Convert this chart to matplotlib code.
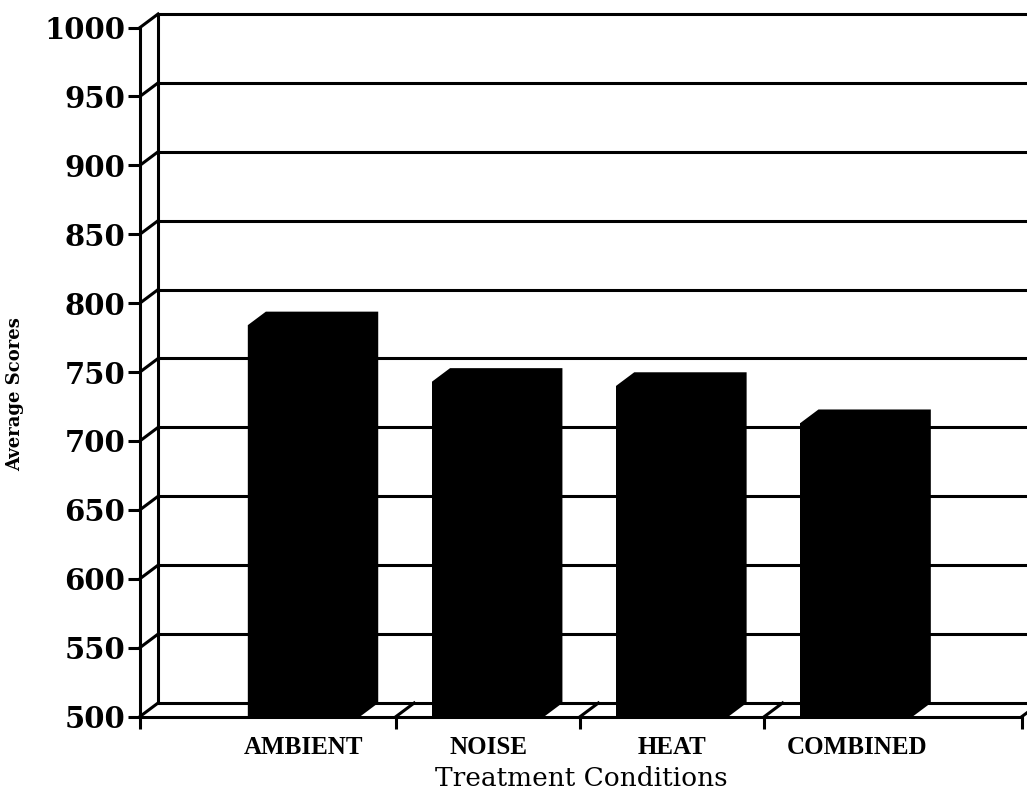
import numpy as np
import matplotlib
matplotlib.use("Agg")
import matplotlib.pyplot as plt

# Mean scores per treatment condition
conditions = ['AMBIENT', 'NOISE', 'HEAT', 'COMBINED']
scores = [784, 743, 740, 713]
y_ticks = list(range(500, 1001, 50))

# front-plane layout and the pseudo 3-D depth offset (data units)
x0, x1 = 0.1097, 4.898
bar_w = 0.61
dx, dy = 0.098, 9.8
lw = 2.2

fig = plt.figure(figsize=(10.27, 8.0), dpi=100)
ax = fig.add_axes([140 / 1027, 83.5 / 800, 882 / 1027, 689 / 800])
ax.set_xlim(x0, x1)
ax.set_ylim(500, 1000)

for side in ['top', 'right']:
    ax.spines[side].set_visible(False)
for side in ['left', 'bottom']:
    ax.spines[side].set_linewidth(lw)
    ax.spines[side].set_zorder(5)

# back wall gridlines and the left wall connecting them to the front axis
for v in y_ticks:
    ax.plot([x0 + dx, 4.95], [v + dy, v + dy], color='black', lw=lw,
            clip_on=False, zorder=1, solid_capstyle='butt')
    ax.plot([x0, x0 + dx], [v, v + dy], color='black', lw=lw,
            clip_on=False, zorder=1)
ax.plot([x0 + dx, x0 + dx], [500 + dy, 1000 + dy], color='black', lw=lw,
        clip_on=False, zorder=1)

# floor divisions between categories
boundaries = [1.5, 2.5, 3.5, x1]
for b in boundaries:
    ax.plot([b, b + dx], [500, 500 + dy], color='black', lw=lw,
            clip_on=False, zorder=1)

# bars: front face plus the extruded top and side
pos = np.arange(1, len(conditions) + 1)
ax.bar(pos, np.array(scores) - 500, bottom=500, width=bar_w,
       color='black', zorder=3)
for c, v in zip(pos, scores):
    L, R = c - bar_w / 2, c + bar_w / 2
    ax.fill([L, R, R + dx, R + dx, L + dx, L],
            [500, 500, 500 + dy, v + dy, v + dy, v],
            color='black', lw=0, zorder=3, clip_on=False)

ax.set_yticks(y_ticks)
ax.set_yticklabels([str(v) for v in y_ticks], family='DejaVu Serif',
                   weight='bold', size=21)
ax.tick_params(axis='y', direction='out', length=8.6, width=lw, pad=2)

ax.set_xticks([x0] + boundaries)
ax.set_xticklabels([])
ax.tick_params(axis='x', which='major', direction='out', length=8.6, width=lw)
ax.set_xticks(pos, minor=True)
ax.set_xticklabels(conditions, minor=True, family='Liberation Serif',
                   weight='bold', size=18)
ax.tick_params(axis='x', which='minor', length=0, pad=14)

ax.set_xlabel('Treatment Conditions', family='DejaVu Serif', size=19,
              labelpad=5)
ax.set_ylabel('Average Scores', family='DejaVu Serif', weight='bold', size=13)
ax.yaxis.set_label_coords(-0.1315, 0.468)

fig.savefig('out.png', dpi=100)
